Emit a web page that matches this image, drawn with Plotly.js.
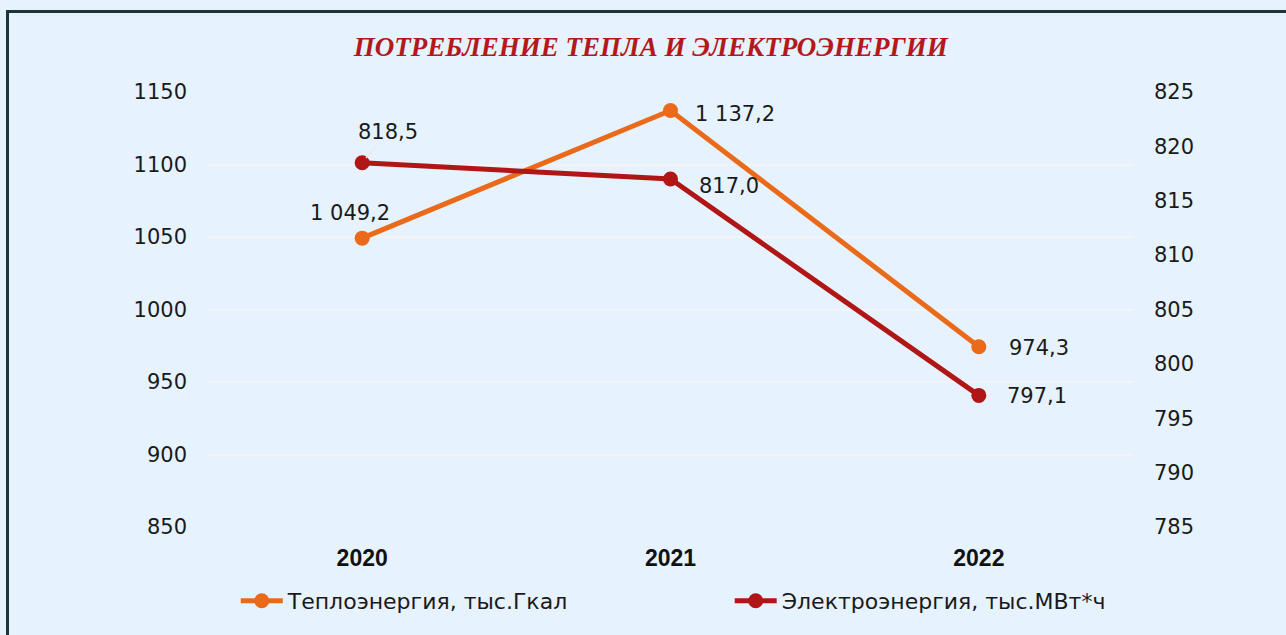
<!DOCTYPE html>
<html><head><meta charset="utf-8">
<script src="https://cdn.plot.ly/plotly-3.0.1.min.js"></script>
<style>
html,body{margin:0;padding:0;background:#e6f2fd;overflow:hidden;width:1286px;height:635px;}
#chart{position:absolute;left:0;top:0;width:1286px;height:635px;}
#frame{position:absolute;left:6px;top:10px;width:1400px;height:700px;border-left:3px solid #1e3538;border-top:3px solid #1e3538;pointer-events:none;}
</style></head>
<body>
<div id="chart"></div>
<div id="frame"></div>
<script>
const years = ['2020', '2021', '2022'];
const heatValues = [1049.2, 1137.2, 974.3];
const powerValues = [818.5, 817.0, 797.1];
const heatName = 'Теплоэнергия, тыс.Гкал';
const powerName = 'Электроэнергия, тыс.МВт*ч';
const leftTicks = [850, 900, 950, 1000, 1050, 1100, 1150];
const rightTicks = [785, 790, 795, 800, 805, 810, 815, 820, 825];

function fmt(v){
  const s = v.toFixed(1).split('.');
  const intp = s[0].replace(/\B(?=(\d{3})+(?!\d))/g, ' ');
  return intp + ',' + s[1];
}

const FONT = 'DejaVu Sans';
const ORANGE = '#ea6a1a';
const RED = '#b01616';

const traces = [
  {x: years, y: heatValues, name: heatName, type: 'scatter', mode: 'lines+markers',
   line: {color: ORANGE, width: 5}, marker: {color: ORANGE, size: 15}, yaxis: 'y', hoverinfo: 'none', legend: 'legend'},
  {x: years, y: powerValues, name: powerName, type: 'scatter', mode: 'lines+markers',
   line: {color: RED, width: 5}, marker: {color: RED, size: 15}, yaxis: 'y2', hoverinfo: 'none', legend: 'legend2'}
];

// label placements (offset in px relative to point)
const heatShift = [[-12, 25], [64, -3], [60, -1]];
const powerShift = [[26, 31], [58, -7], [58, -1]];
const annotations = [];
years.forEach((yr, i) => {
  annotations.push({x: i, y: heatValues[i], xref: 'x', yref: 'y', text: fmt(heatValues[i]),
    showarrow: false, xshift: heatShift[i][0], yshift: heatShift[i][1],
    font: {family: FONT, size: 21, color: '#1a1a1a'}});
  if (i === 0) {
    annotations.push({x: i, y: powerValues[i], xref: 'x', yref: 'y2', text: fmt(powerValues[i]),
      showarrow: true, ax: powerShift[i][0], ay: -powerShift[i][1], arrowhead: 0, arrowwidth: 1.5,
      arrowcolor: '#ebebeb', standoff: 6,
      font: {family: FONT, size: 21, color: '#1a1a1a'}});
  } else {
    annotations.push({x: i, y: powerValues[i], xref: 'x', yref: 'y2', text: fmt(powerValues[i]),
      showarrow: false, xshift: powerShift[i][0], yshift: powerShift[i][1],
      font: {family: FONT, size: 21, color: '#1a1a1a'}});
  }
});

const legendCommon = {orientation: 'h', xanchor: 'left', y: -0.17, yanchor: 'middle',
  bgcolor: 'rgba(0,0,0,0)', font: {family: FONT, size: 22, color: '#1a1a1a'}, itemwidth: 42};

const layout = {
  width: 1286, height: 635,
  paper_bgcolor: 'rgba(0,0,0,0)', plot_bgcolor: 'rgba(0,0,0,0)',
  margin: {l: 208, r: 153, t: 92, b: 108},
  title: {text: 'ПОТРЕБЛЕНИЕ ТЕПЛА И ЭЛЕКТРОЭНЕРГИИ', x: 0.506, xanchor: 'center', y: 0.926, yanchor: 'middle',
    font: {family: 'Liberation Serif', size: 27, color: '#b3191c', weight: 'bold', style: 'italic'}},
  xaxis: {type: 'category', range: [-0.5, 2.5], showgrid: false, zeroline: false, showline: false,
    ticks: '', ticklabelstandoff: 15,
    tickfont: {family: 'Liberation Sans', size: 23, color: '#111', weight: 'bold'}},
  yaxis: {range: [850, 1150], tickvals: leftTicks, ticktext: leftTicks.map(String), showgrid: true,
    gridcolor: '#f3f4f6', gridwidth: 2, zeroline: false, showline: false, ticks: '', ticklabelstandoff: 20,
    tickfont: {family: FONT, size: 21, color: '#1a1a1a'}},
  yaxis2: {range: [785, 825], tickvals: rightTicks, ticktext: rightTicks.map(String), overlaying: 'y', side: 'right',
    showgrid: false, zeroline: false, showline: false, ticks: '', ticklabelstandoff: 20,
    tickfont: {family: FONT, size: 21, color: '#1a1a1a'}},
  showlegend: true,
  legend: Object.assign({x: 0.030}, legendCommon),
  legend2: Object.assign({x: 0.564}, legendCommon),
  annotations: annotations
};

Plotly.newPlot('chart', traces, layout, {displayModeBar: false, staticPlot: true});
</script>
</body></html>
